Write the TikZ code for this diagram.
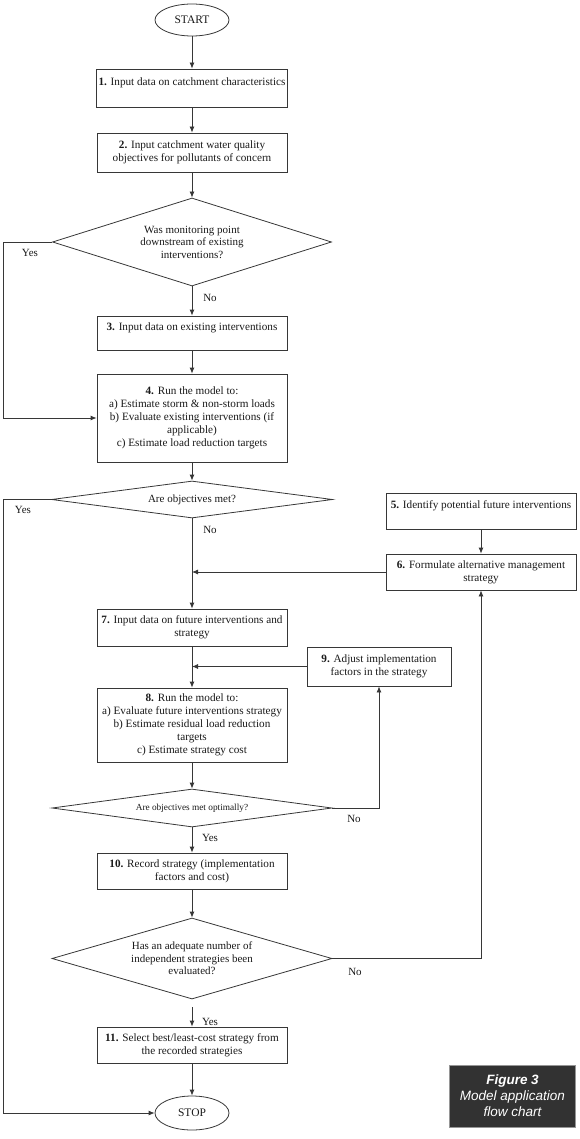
\documentclass[tikz,border=0pt]{standalone}
\usepackage{fontspec}
\setmainfont{Liberation Serif}
\newfontfamily\figfont{Liberation Sans}
\usetikzlibrary{shapes.geometric,arrows.meta}
\definecolor{linecol}{RGB}{55,55,55}
\definecolor{txtcol}{RGB}{25,25,25}
\definecolor{figfill}{RGB}{50,50,50}
\definecolor{figedge}{RGB}{150,150,150}
\begin{document}
\begin{tikzpicture}[x=1pt,y=-1pt,
  boxnode/.style={draw=linecol,line width=0.8pt,rectangle,minimum width=190pt,align=center,inner sep=2pt,text=txtcol,font=\fontsize{11.2}{13}\selectfont},
  decnode/.style={draw=linecol,line width=0.8pt,diamond,inner sep=0pt,align=center,text=txtcol,font=\fontsize{11}{12.5}\selectfont},
  termnode/.style={draw=linecol,line width=0.8pt,ellipse,minimum width=74pt,minimum height=32pt,inner sep=0pt,text=txtcol,font=\fontsize{11.5}{13}\selectfont},
  conn/.style={draw=linecol,line width=0.8pt,-{Latex[length=6pt,width=5pt]}},
  lbl/.style={inner sep=0pt,text=txtcol,font=\fontsize{11}{13}\selectfont},
  figbox/.style={draw=figedge,line width=0.8pt,fill=figfill,text=white,align=center,minimum width=126pt,minimum height=62pt,inner sep=2pt,font=\figfont\itshape\fontsize{13.5}{16}\selectfont}]
\useasboundingbox (0,0) rectangle (580,1139);

% terminals
\node[termnode] (start) at (192,20) {START};
\node[termnode,minimum height=34pt] (stop) at (192,1113) {STOP};

% main column boxes
\node[boxnode,minimum height=38pt] (b1) at (192,88) {\textbf{1.} Input data on catchment characteristics\\ \mbox{}};
\node[boxnode,minimum height=39pt] (b2) at (192,152.5) {\textbf{2.} Input catchment water quality\\objectives for pollutants of concern};
\node[decnode,minimum width=279pt,minimum height=88pt,aspect=3.17] (d1) at (192,242) {Was monitoring point\\downstream of existing\\interventions?};
\node[boxnode,minimum height=34pt] (b3) at (192,333) {\textbf{3.} Input data on existing interventions\\ \mbox{}};
\node[boxnode,minimum height=88pt] (b4) at (192,418) {\textbf{4.} Run the model to:\\a) Estimate storm \& non-storm loads\\b) Evaluate existing interventions (if\\applicable)\\c) Estimate load reduction targets};
\node[decnode,minimum width=281pt,minimum height=37pt,aspect=7.6] (d2) at (192,499.5) {Are objectives met?};
\node[boxnode,minimum height=37pt] (b7) at (192,627.5) {\textbf{7.} Input data on future interventions and\\strategy};
\node[boxnode,minimum height=74pt] (b8) at (192,725) {\textbf{8.} Run the model to:\\a) Evaluate future interventions strategy\\b) Estimate residual load reduction\\targets\\c) Estimate strategy cost};
\node[decnode,minimum width=280pt,minimum height=38pt,aspect=7.4,font=\fontsize{9.3}{11}\selectfont] (d3) at (192,808) {Are objectives met optimally?};
\node[boxnode,minimum height=36pt] (b10) at (192,871) {\textbf{10.} Record strategy (implementation\\factors and cost)};
\node[decnode,minimum width=280pt,minimum height=81pt,aspect=3.46] (d4) at (192,958.5) {Has an adequate number of\\independent strategies been\\evaluated?};
\node[boxnode,minimum height=36pt] (b11) at (192,1045) {\textbf{11.} Select best/least-cost strategy from\\the recorded strategies};

% right column boxes
\node[boxnode,minimum height=36pt] (b5) at (481,511) {\textbf{5.} Identify potential future interventions\\ \mbox{}};
\node[boxnode,minimum height=36pt] (b6) at (481,572) {\textbf{6.} Formulate alternative management\\strategy};
\node[boxnode,minimum width=144pt,minimum height=39pt] (b9) at (379,666.5) {\textbf{9.} Adjust implementation\\factors in the strategy};

% figure caption
\node[figbox] (fig) at (512.5,1096) {\textbf{Figure 3}\\Model application\\flow chart};

% corner points of the Yes branches
\coordinate (y1) at (3,242);
\coordinate (y2) at (3,499.5);

% connectors
\draw[conn] (start) -- (b1);
\draw[conn] (b1) -- (b2);
\draw[conn] (b2) -- (d1);
\draw[conn] (d1) -- (b3);
\draw[conn] (b3) -- (b4);
\draw[conn] (d1.west) -- (y1) |- (b4.west);
\draw[conn] (b4) -- (d2);
\draw[conn] (d2) -- (b7);
\draw[conn] (d2.west) -- (y2) |- (stop.west);
\draw[conn] (b5) -- (b6);
\draw[conn] (b6.west) -- (b6.west -| b7.north);
\draw[conn] (b7) -- (b8);
\draw[conn] (b9.west) -- (b9.west -| b7.south);
\draw[conn] (b8) -- (d3);
\draw[conn] (d3.east) -| (b9.south);
\draw[conn] (d3) -- (b10);
\draw[conn] (b10) -- (d4);
\draw[conn] (d4.east) -| (b6.south);
\draw[conn,shorten <=8pt] (d4) -- (b11);
\draw[conn] (b11) -- (stop);

% branch labels
\node[lbl] (l1) at (30,253) {Yes};
\node[lbl] (l2) at (210,298) {No};
\node[lbl] (l3) at (23,510) {Yes};
\node[lbl] (l4) at (210,530) {No};
\node[lbl] (l5) at (354,819) {No};
\node[lbl] (l6) at (210,838) {Yes};
\node[lbl] (l7) at (355,972) {No};
\node[lbl] (l8) at (210,1022) {Yes};
\end{tikzpicture}
\end{document}
